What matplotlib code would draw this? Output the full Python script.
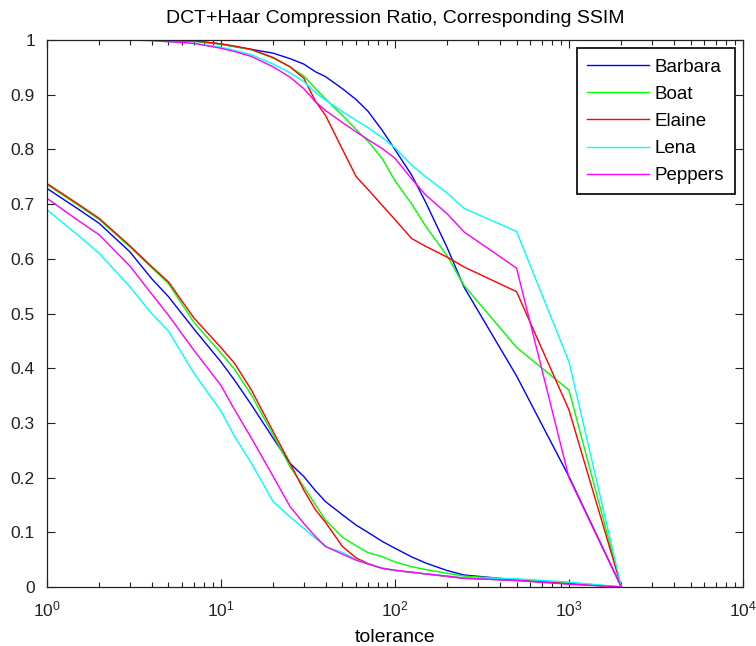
import numpy as np
import matplotlib
matplotlib.use("Agg")
import matplotlib.pyplot as plt
from matplotlib.ticker import LogLocator, FixedLocator

plt.rcParams['font.family'] = ['Liberation Sans', 'DejaVu Sans']
plt.rcParams['mathtext.fontset'] = 'custom'
plt.rcParams['mathtext.rm'] = 'Liberation Sans'

# tolerance values (x axis)
tol = [1, 1.5, 2, 3, 4, 5, 7, 10, 12, 15, 20, 25, 30, 35, 40, 50, 60, 70, 85, 100, 125, 150, 200, 250, 500, 1000, 2000]

names = ['Barbara', 'Boat', 'Elaine', 'Lena', 'Peppers']
colors = ['#0000ff', '#00ff00', '#ff0000', '#00ffff', '#ff00ff']

# compression ratio curves (lower group)
ratio_barbara = [0.729, 0.692, 0.665, 0.613, 0.564, 0.531, 0.472, 0.412, 0.378, 0.333, 0.272, 0.226, 0.202, 0.176, 0.156, 0.132, 0.113, 0.100, 0.083, 0.071, 0.055, 0.044, 0.030, 0.022, 0.013, 0.007, 0]
ratio_boat = [0.736, 0.699, 0.672, 0.622, 0.584, 0.555, 0.484, 0.428, 0.398, 0.351, 0.278, 0.220, 0.183, 0.150, 0.122, 0.091, 0.075, 0.063, 0.055, 0.046, 0.037, 0.032, 0.025, 0.020, 0.014, 0.008, 0]
ratio_elaine = [0.738, 0.701, 0.674, 0.624, 0.586, 0.558, 0.492, 0.438, 0.409, 0.360, 0.284, 0.226, 0.177, 0.141, 0.118, 0.074, 0.053, 0.043, 0.034, 0.030, 0.027, 0.024, 0.019, 0.016, 0.012, 0.006, 0]
ratio_lena = [0.690, 0.644, 0.610, 0.549, 0.500, 0.468, 0.391, 0.322, 0.275, 0.226, 0.156, 0.128, 0.107, 0.089, 0.074, 0.063, 0.050, 0.042, 0.035, 0.030, 0.027, 0.024, 0.020, 0.017, 0.015, 0.009, 0]
ratio_peppers = [0.711, 0.671, 0.644, 0.587, 0.536, 0.497, 0.433, 0.369, 0.324, 0.272, 0.202, 0.147, 0.116, 0.092, 0.074, 0.060, 0.049, 0.042, 0.034, 0.031, 0.027, 0.024, 0.020, 0.016, 0.012, 0.005, 0]

# SSIM curves (upper group)
ssim_barbara = [1, 1, 1, 1, 1, 0.999, 0.998, 0.993, 0.988, 0.983, 0.976, 0.966, 0.956, 0.942, 0.933, 0.911, 0.891, 0.870, 0.834, 0.800, 0.753, 0.704, 0.620, 0.548, 0.386, 0.202, 0]
ssim_boat = [1, 1, 1, 1, 1, 0.999, 0.998, 0.992, 0.988, 0.982, 0.967, 0.951, 0.934, 0.911, 0.892, 0.862, 0.836, 0.815, 0.782, 0.743, 0.700, 0.660, 0.605, 0.551, 0.438, 0.360, 0]
ssim_elaine = [1, 1, 1, 1, 1, 0.999, 0.999, 0.993, 0.989, 0.983, 0.968, 0.951, 0.930, 0.888, 0.862, 0.800, 0.750, 0.727, 0.697, 0.672, 0.637, 0.623, 0.603, 0.585, 0.540, 0.324, 0]
ssim_lena = [1, 1, 1, 1, 0.999, 0.997, 0.994, 0.987, 0.981, 0.973, 0.956, 0.940, 0.924, 0.904, 0.890, 0.869, 0.853, 0.840, 0.821, 0.803, 0.771, 0.750, 0.720, 0.692, 0.650, 0.412, 0]
ssim_peppers = [1, 1, 1, 1, 0.999, 0.997, 0.994, 0.985, 0.979, 0.970, 0.951, 0.932, 0.911, 0.887, 0.871, 0.849, 0.832, 0.818, 0.801, 0.784, 0.746, 0.717, 0.682, 0.649, 0.583, 0.200, 0]

ratios = [ratio_barbara, ratio_boat, ratio_elaine, ratio_lena, ratio_peppers]
ssims = [ssim_barbara, ssim_boat, ssim_elaine, ssim_lena, ssim_peppers]

fig = plt.figure(figsize=(7.56, 6.46), dpi=100)
ax = fig.add_axes([0.0618, 0.0913, 0.921, 0.8467])

for i in range(len(names)):
    ax.plot(tol, ratios[i], color=colors[i], lw=1.0, label=names[i])
for i in range(len(names)):
    ax.plot(tol, ssims[i], color=colors[i], lw=1.0)

ax.set_xscale('log')
ax.set_xlim(1, 1e4)
ax.set_ylim(0, 1)
ax.xaxis.set_major_locator(LogLocator(base=10, numticks=10))
ax.xaxis.set_minor_locator(LogLocator(base=10, subs=np.arange(2, 10), numticks=10))
ax.yaxis.set_major_locator(FixedLocator(np.arange(0, 1.01, 0.1)))
ax.set_yticklabels(['0', '0.1', '0.2', '0.3', '0.4', '0.5', '0.6', '0.7', '0.8', '0.9', '1'])

ax.tick_params(which='both', direction='in', top=True, right=True, labelsize=12.5, colors='#222222')
ax.tick_params(which='major', length=6, width=0.8)
ax.tick_params(which='minor', length=3.5, width=0.8)
ax.tick_params(axis='x', pad=9)
ax.tick_params(axis='y', pad=8.5)
for s in ax.spines.values():
    s.set_color('#222222')
    s.set_linewidth(0.9)

ax.set_title('DCT+Haar Compression Ratio, Corresponding SSIM', fontsize=14, pad=12)
ax.set_xlabel('tolerance', fontsize=14, labelpad=7)

leg = ax.legend(loc='upper right', fontsize=13.5, handlelength=3.3, labelspacing=0.53,
                borderaxespad=0.45, fancybox=False, framealpha=1, edgecolor='#111111',
                borderpad=0.55, handletextpad=0.3)
leg.get_frame().set_linewidth(1.3)

fig.savefig('out.png', dpi=100)
